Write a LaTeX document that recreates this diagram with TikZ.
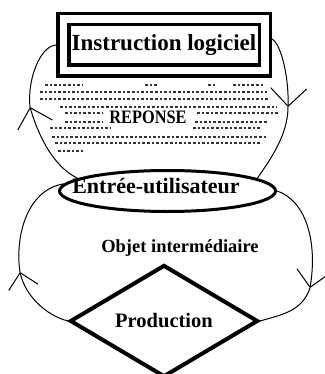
\documentclass[tikz,border=0pt]{standalone}
\usepackage{fontspec}
\setmainfont{Liberation Serif}
\usetikzlibrary{shapes.geometric,arrows.meta}
\begin{document}
\begin{tikzpicture}[
  x=1pt, y=-1pt,
  every node/.style={font=\bfseries},
  instrbox/.style={rectangle, draw=black, double, double distance=7.5pt, line width=3.5pt,
    minimum width=201.5pt, minimum height=51.5pt, inner sep=0pt, outer sep=7.25pt,
    font=\bfseries\fontsize{23}{26}\selectfont},
  userbox/.style={ellipse, draw=black, line width=3pt, minimum width=216pt, minimum height=41pt, inner sep=0pt},
  prodbox/.style={diamond, draw=black, line width=4pt, minimum width=188pt, minimum height=102pt, inner sep=0pt,
    font=\bfseries\fontsize{20.5}{23}\selectfont},
  loopline/.style={draw=black, line width=1pt},
  barb/.style={loopline, -{Straight Barb[length=#1, width=2*#1, line width=1pt]}},
  dashrow/.style={draw=black!80, line width=1.3pt, dash pattern=on 2.6pt off 2pt}
]
  \useasboundingbox (0,0) rectangle (324,374);
  % dotted area of the answer
  \foreach \r/\a/\b in {85/45/82, 85/145/158, 85/208/217, 85/233/263,
      92/40/267, 99/40/270, 107/60/277, 113/65/103, 113/197/278,
      122/65/103, 122/195/267, 128/50/110, 128/193/260,
      137/52/267, 143/55/262, 151/58/83}
    \draw[dashrow] (\a,\r) -- (\b,\r);
  \node[font=\bfseries\fontsize{19}{21}\selectfont] (reponse) at (148,117) {\scalebox{0.86}[1]{REPONSE}};

  \node[instrbox] (instr) at (164,45) {Instruction logiciel};
  \node[userbox] (user) at (167.5,191)
    {}; \node[font=\bfseries\fontsize{22}{24}\selectfont] (usertext) at (156,186) {Entrée-utilisateur};
  \node[font=\bfseries\fontsize{18.5}{20}\selectfont] (objet) at (180,248) {Objet intermédiaire};
  \node[prodbox] (prod) at (164,321) {Production};

  \coordinate (tipTL) at (30,107);
  \coordinate (tipTR) at (288,107);
  \coordinate (tipBL) at (20,272);
  \coordinate (tipBR) at (310,288);

  % upper loop
  \draw[barb=18pt] (user.172) .. controls (50,165) and (36,128) .. (tipTL);
  \draw[loopline] (tipTL) .. controls (27,80) and (40,46) .. (instr.west);
  \draw[barb=18pt] ([yshift=6pt]instr.east) .. controls (282,45) and (289,80) .. (tipTR);
  \draw[loopline] (tipTR) .. controls (288,135) and (270,160) .. (user.8);
  % lower loop
  \draw[barb=15pt] (prod.west) .. controls (45,315) and (25,295) .. (tipBL);
  \draw[loopline] (tipBL) .. controls (15,240) and (25,190) .. (user.176);
  \draw[barb=16pt] (user.east) .. controls (305,200) and (318,240) .. (tipBR);
  \draw[loopline] (tipBR) .. controls (302,312) and (280,315) .. (prod.east);
\end{tikzpicture}
\end{document}
